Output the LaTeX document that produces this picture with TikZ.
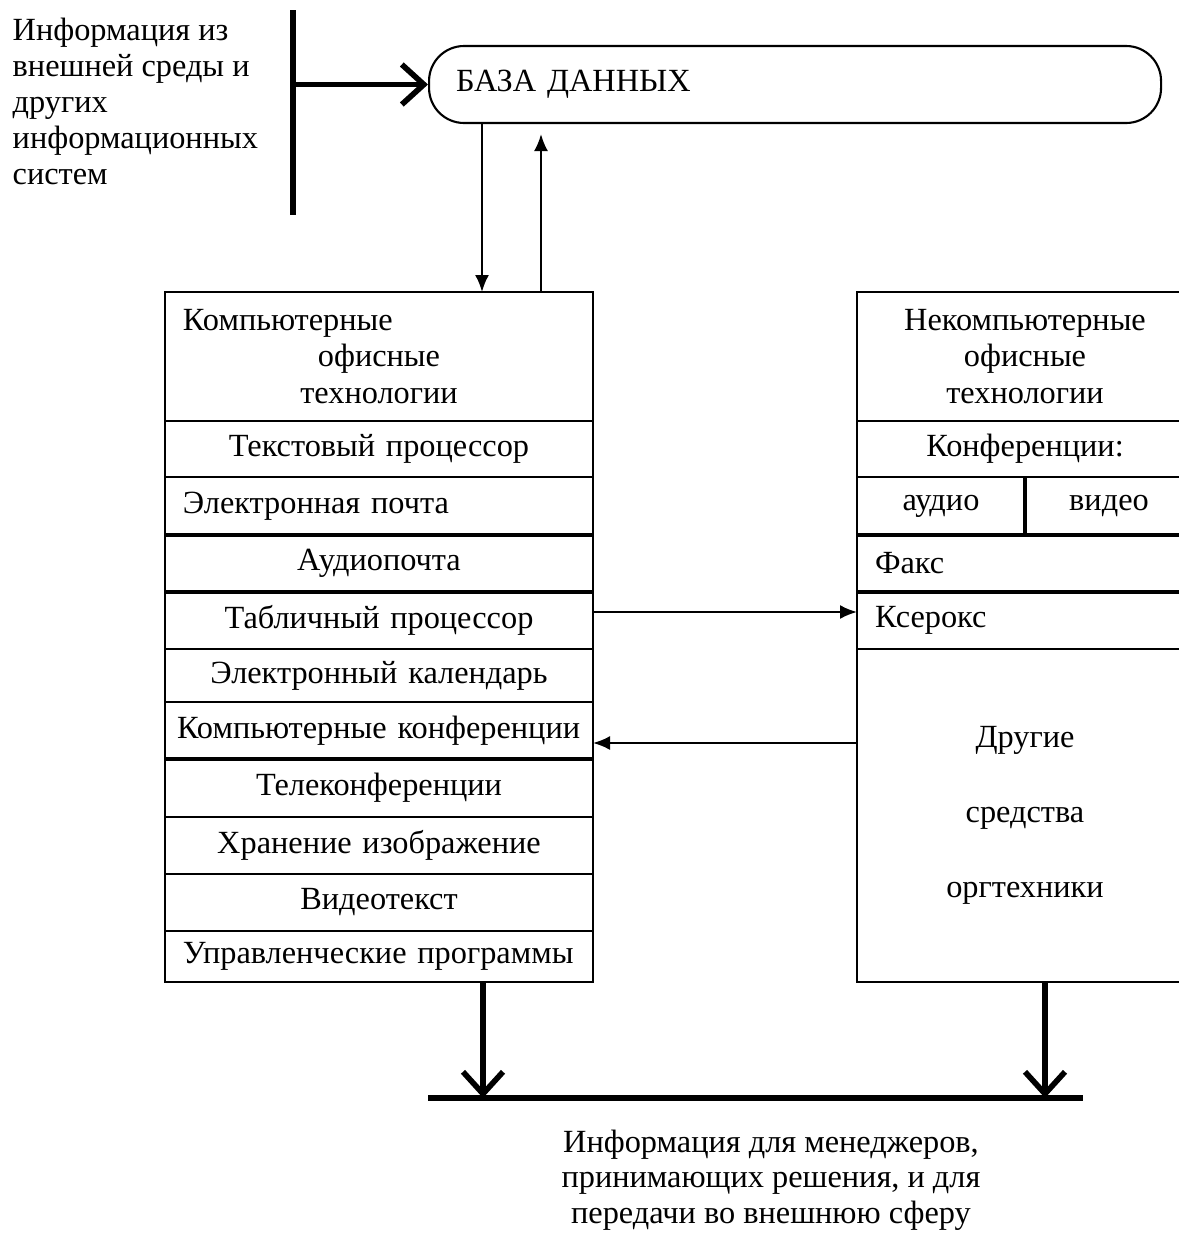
\documentclass[tikz,border=0pt]{standalone}
\usepackage{fontspec}
\setmainfont{Liberation Serif}
\usetikzlibrary{arrows.meta, positioning}
\tikzstyle{cell} = [rectangle, draw=black, 
line width=0.6pt, 
outer sep=0pt, 
inner xsep=0.18cm, inner ysep=0pt, 
text width=3.92cm, 
align=center]
\tikzstyle{lcell} = [cell, align=left]
\tikzstyle{rcell} = [cell, text width=3.00cm]
\tikzstyle{half} = [cell, text width=1.32cm]
\tikzstyle{sep} = [line width=1.4pt]
\tikzstyle{arrow} = [line width=0.6pt, -{Latex[length=0.17cm, width=0.14cm]}]
\tikzstyle{bigarrow} = [line width=1.6pt, -{Straight Barb[length=0.22cm, width=0.4cm]}]
\tikzstyle{bar} = [line width=1.6pt]
\begin{document}
\begin{tikzpicture}[every node/.style={font=\fontsize{9.2}{10.3}\selectfont}]
        \useasboundingbox (0,0) rectangle (11.79,-12.35);

        % Внешняя информация и база данных
        \node (src) [anchor=north west, align=left, inner sep=0pt] at (0.12,-0.17) {Информация из\\внешней среды и\\других\\информационных\\систем};
        \coordinate (srctop) at (2.93,-0.10);
        \coordinate (srcbot) at (2.93,-2.15);
        \coordinate (srcmid) at (2.93,-0.845);
        \node (db) [draw, line width=0.6pt, rounded corners=0.35cm, minimum height=0.77cm, text width=6.78cm, inner xsep=0.27cm, align=left, anchor=west] at (4.28,-0.845) {БАЗА ДАННЫХ};

        % Компьютерные технологии
        \node (chead) [cell, minimum height=1.29cm, anchor=north] at (3.79,-2.92) {\makebox[3.92cm][l]{Компьютерные}\\офисные\\технологии};
        \node (ctext) [cell, minimum height=0.56cm, below=0pt of chead] {Текстовый процессор};
        \node (cmail) [lcell, minimum height=0.58cm, below=0pt of ctext] {Электронная почта};
        \node (caudio) [cell, minimum height=0.57cm, below=0pt of cmail] {Аудиопочта};
        \node (ctab) [cell, minimum height=0.57cm, below=0pt of caudio] {Табличный процессор};
        \node (ccal) [cell, minimum height=0.53cm, below=0pt of ctab] {Электронный календарь};
        \node (cconf) [lcell, minimum height=0.57cm, below=0pt of ccal, text width=4.04cm, inner xsep=0.12cm] {\mbox{Компьютерные конференции}};
        \node (ctele) [cell, minimum height=0.58cm, below=0pt of cconf] {Телеконференции};
        \node (cimg) [cell, minimum height=0.57cm, below=0pt of ctele] {Хранение изображение};
        \node (cvtext) [cell, minimum height=0.57cm, below=0pt of cimg] {Видеотекст};
        \node (cprog) [lcell, minimum height=0.51cm, below=0pt of cvtext] {Управленческие программы};

        % Некомпьютерные технологии
        \node (nhead) [rcell, minimum height=1.29cm, anchor=north] at (10.25,-2.92) {Некомпьютерные\\офисные\\технологии};
        \node (nconf) [rcell, minimum height=0.56cm, below=0pt of nhead] {Конференции:};
        \node (naudio) [half, minimum height=0.58cm, anchor=north west] at (nconf.south west) {аудио};
        \node (nvideo) [half, minimum height=0.58cm, right=0pt of naudio] {видео};
        \node (nfax) [rcell, align=left, minimum height=0.57cm, anchor=north west] at (naudio.south west) {Факс};
        \node (nxerox) [rcell, align=left, minimum height=0.57cm, below=0pt of nfax] {Ксерокс};
        \node (nother) [rcell, minimum height=3.33cm, below=0pt of nxerox, font=\fontsize{9.2}{21.3}\selectfont] {Другие\\средства\\оргтехники};

        % Жирные разделители
        \draw [sep] (caudio.north west) -- (caudio.north east);
        \draw [sep] (ctab.north west) -- (ctab.north east);
        \draw [sep] (ctele.north west) -- (ctele.north east);
        \draw [sep] (nfax.north west) -- (nfax.north east);
        \draw [sep] (nxerox.north west) -- (nxerox.north east);
        \draw [sep] (naudio.north east) -- (naudio.south east);

        % Выход
        \coordinate (barL) at (4.28,-10.98);
        \coordinate (barR) at (10.83,-10.98);
        \coordinate (outL) at (4.83,-10.98);
        \coordinate (outR) at (10.45,-10.98);
        \node (dst) [align=center, font=\fontsize{9.2}{10.1}\selectfont] at (7.71,-11.80) {Информация для менеджеров,\\принимающих решения, и для\\передачи во внешнюю сферу};

        % Связи
        \coordinate (dbdown) at (4.82,-2.92);
        \coordinate (dbup) at (5.41,-2.92);
        \coordinate (back) at (8.57,-7.43);
        \draw [bar] (srctop) -- (srcbot);
        \draw [bigarrow] (srcmid) -- (db.west);
        \draw [arrow] (dbdown |- db.south) -- (dbdown);
        \draw [arrow, shorten >=0.1cm] (dbup) -- (dbup |- db.south);
        \draw [arrow] ([yshift=0.085cm]ctab.east) -- ([yshift=0.085cm]nxerox.west);
        \draw [arrow] (back) -- (back -| cconf.east);
        \draw [bigarrow] (outL |- cprog.south) -- (outL);
        \draw [bigarrow] (outR |- nother.south) -- (outR);
        \draw [bar] (barL) -- (barR);

    \end{tikzpicture}
\end{document}
